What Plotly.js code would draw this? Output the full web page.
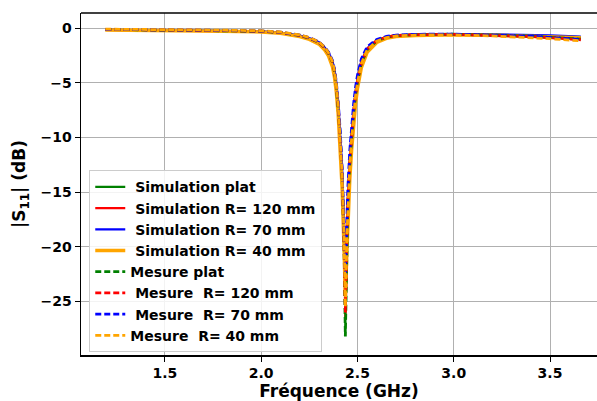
<!DOCTYPE html>
<html>
<head>
<meta charset="utf-8">
<script src="https://cdn.plot.ly/plotly-3.0.1.min.js"></script>
<style>html,body{margin:0;padding:0;background:#fff;}#chart{width:597px;height:401px;}</style>
</head>
<body>
<div id="chart"></div>
<script>
// Frequencies (GHz)
const freq = [1.19, 1.4, 1.6, 1.8, 2.0, 2.1, 2.2, 2.25, 2.3, 2.33, 2.35, 2.37, 2.38, 2.39, 2.40, 2.41, 2.42, 2.43, 2.437, 2.445, 2.45, 2.46, 2.47, 2.48, 2.49, 2.50, 2.52, 2.55, 2.6, 2.65, 2.7, 2.8, 3.0, 3.2, 3.4, 3.5, 3.66];

// Simulations |S11| (dB)
const simPlat = [-0.15, -0.17, -0.2, -0.24, -0.3, -0.42, -0.7, -0.95, -1.35, -1.85, -2.35, -3.2, -4.0, -5.3, -7.3, -10.0, -13.5, -19.0, -25.0, -19.5, -16.5, -12.8, -10.2, -8.0, -6.3, -5.0, -3.3, -2.0, -1.2, -0.85, -0.7, -0.6, -0.55, -0.58, -0.65, -0.7, -0.8];
const simR120 = [-0.15, -0.18, -0.21, -0.25, -0.32, -0.44, -0.72, -0.98, -1.4, -1.9, -2.4, -3.3, -4.1, -5.4, -7.5, -10.2, -13.8, -19.5, -26.7, -20.0, -16.8, -13.0, -10.3, -8.1, -6.4, -5.1, -3.4, -2.05, -1.25, -0.9, -0.72, -0.62, -0.57, -0.6, -0.68, -0.74, -0.85];
const simR70 = [-0.14, -0.16, -0.19, -0.23, -0.29, -0.4, -0.66, -0.9, -1.28, -1.75, -2.2, -3.0, -3.7, -4.9, -6.7, -9.2, -12.6, -17.5, -23.0, -18.5, -15.5, -11.8, -9.4, -7.4, -5.8, -4.6, -3.0, -1.85, -1.1, -0.8, -0.65, -0.58, -0.53, -0.55, -0.6, -0.65, -0.75];
const simR40 = [-0.16, -0.18, -0.22, -0.26, -0.33, -0.46, -0.76, -1.02, -1.45, -2.0, -2.55, -3.5, -4.4, -5.8, -7.9, -10.8, -14.5, -20.0, -24.5, -20.5, -17.5, -13.8, -11.0, -8.7, -6.9, -5.5, -3.6, -2.2, -1.3, -0.92, -0.75, -0.65, -0.6, -0.63, -0.7, -0.76, -0.87];

// Measurements |S11| (dB)
const mesPlat = [-0.1, -0.13, -0.17, -0.21, -0.27, -0.38, -0.65, -0.9, -1.3, -1.8, -2.3, -3.1, -3.9, -5.2, -7.2, -9.8, -13.4, -19.5, -28.2, -19.0, -16.0, -12.4, -9.9, -7.8, -6.1, -4.9, -3.2, -1.95, -1.15, -0.82, -0.67, -0.58, -0.54, -0.6, -0.72, -0.82, -1.0];
const mesR120 = [-0.1, -0.12, -0.16, -0.2, -0.26, -0.37, -0.64, -0.88, -1.28, -1.78, -2.28, -3.05, -3.85, -5.1, -7.1, -9.7, -13.2, -19.2, -26.0, -18.8, -15.8, -12.2, -9.7, -7.6, -6.0, -4.8, -3.15, -1.9, -1.12, -0.8, -0.66, -0.58, -0.55, -0.62, -0.75, -0.86, -1.05];
const mesR70 = [-0.1, -0.12, -0.15, -0.19, -0.25, -0.36, -0.62, -0.86, -1.25, -1.72, -2.2, -2.95, -3.7, -4.9, -6.8, -9.3, -12.8, -18.0, -22.5, -17.5, -14.6, -11.2, -8.8, -6.9, -5.4, -4.3, -2.8, -1.7, -1.02, -0.75, -0.62, -0.55, -0.53, -0.6, -0.73, -0.84, -1.02];
const mesR40 = [-0.08, -0.1, -0.13, -0.17, -0.23, -0.34, -0.6, -0.85, -1.25, -1.75, -2.25, -3.05, -3.85, -5.1, -7.1, -9.8, -13.4, -19.0, -25.5, -19.2, -16.2, -12.5, -10.0, -7.9, -6.2, -5.0, -3.25, -1.98, -1.18, -0.85, -0.7, -0.62, -0.6, -0.7, -0.85, -0.95, -1.15];

const nb = '\u00a0';
const labels = [nb + 'Simulation plat', nb + 'Simulation R= 120 mm', nb + 'Simulation R= 70 mm', nb + 'Simulation R= 40 mm',
                'Mesure plat', nb + 'Mesure ' + nb + 'R= 120 mm', nb + 'Mesure ' + nb + 'R= 70 mm', 'Mesure ' + nb + 'R= 40 mm'];
const colors = ['#008000', '#ff0000', '#0000ff', '#ffa500'];

const sims = [simPlat, simR120, simR70, simR40];
const mes = [mesPlat, mesR120, mesR70, mesR40];
const simWidths = [2.2, 2.2, 2.2, 3.5];

const traces = [];
sims.forEach((s, i) => traces.push({
  x: freq, y: s, type: 'scatter', mode: 'lines', name: labels[i],
  line: {color: colors[i], width: simWidths[i]}
}));
mes.forEach((s, i) => traces.push({
  x: freq, y: s, type: 'scatter', mode: 'lines', name: labels[i + 4],
  line: {color: colors[i], width: 2.8, dash: '6px,3px'}
}));

const layout = {
  width: 597, height: 401,
  margin: {l: 81, r: 0, t: 13, b: 46},
  paper_bgcolor: '#fff', plot_bgcolor: '#fff',
  showlegend: true,
  legend: {
    x: 0.016, y: 0.54, xanchor: 'left', yanchor: 'top',
    bgcolor: 'rgba(255,255,255,0.85)', bordercolor: '#cccccc', borderwidth: 1,
    font: {family: 'DejaVu Sans', size: 14, color: '#000', weight: 'bold'},
    tracegroupgap: 0
  },
  xaxis: {
    range: [1.064, 3.744],
    tickvals: [1.5, 2.0, 2.5, 3.0, 3.5], ticktext: ['1.5', '2.0', '2.5', '3.0', '3.5'],
    showgrid: true, gridcolor: '#b0b0b0', gridwidth: 1,
    zeroline: false, showline: true, linecolor: '#000', linewidth: 1.5,
    ticks: 'outside', ticklen: 5, tickcolor: '#000', tickwidth: 1,
    tickfont: {family: 'DejaVu Sans', size: 14, color: '#000', weight: 'bold'},
    title: {text: 'Fréquence (GHz)', font: {family: 'DejaVu Sans', size: 17, color: '#000', weight: 'bold'}, standoff: 4}
  },
  yaxis: {
    range: [-29.9, 1.4],
    tickvals: [0, -5, -10, -15, -20, -25],
    showgrid: true, gridcolor: '#b0b0b0', gridwidth: 1,
    zeroline: false, showline: true, linecolor: '#000', linewidth: 1.5,
    ticks: 'outside', ticklen: 5, tickcolor: '#000', tickwidth: 1,
    tickfont: {family: 'DejaVu Sans', size: 14, color: '#000', weight: 'bold'},
    title: {text: '|S<sub>11</sub>| (dB)', font: {family: 'DejaVu Sans', size: 17, color: '#000', weight: 'bold'}, standoff: 10}
  },
  shapes: [{type: 'line', xref: 'paper', yref: 'paper', x0: 0, x1: 1, y0: 1, y1: 1, line: {color: '#000', width: 1.5}}],
  font: {family: 'DejaVu Sans', color: '#000'}
};

Plotly.newPlot('chart', traces, layout, {displayModeBar: false, staticPlot: true});
</script>
</body>
</html>
